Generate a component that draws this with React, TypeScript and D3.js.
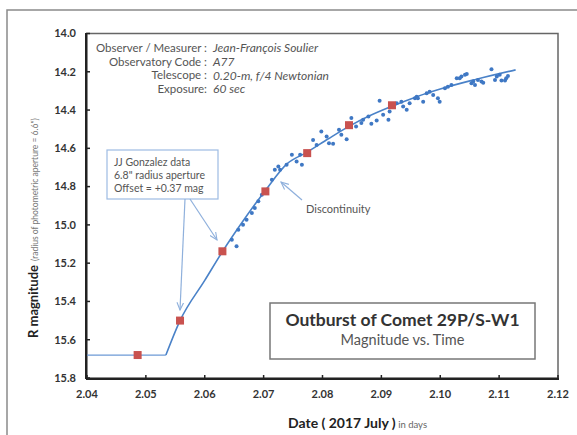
import React from "react";
import * as d3 from "d3";

const xTicks = [2.04, 2.05, 2.06, 2.07, 2.08, 2.09, 2.1, 2.11, 2.12];
const yTicks = [14.0, 14.2, 14.4, 14.6, 14.8, 15.0, 15.2, 15.4, 15.6, 15.8];

// JJ Gonzalez data (red squares)
const gonzalezX = [2.0486, 2.0558, 2.063, 2.0703, 2.0774, 2.0845, 2.0918];
const gonzalezY = [15.68, 15.5, 15.138, 14.825, 14.625, 14.479, 14.375];

// Soulier measurements (blue dots)
const obsX = [
  2.0646, 2.0654, 2.0657, 2.0665, 2.0671, 2.068, 2.0685, 2.0691, 2.0697, 2.0705,
  2.0714, 2.0719, 2.0725, 2.0728, 2.0739, 2.0748, 2.0756, 2.0762, 2.0765, 2.0784,
  2.079, 2.0798, 2.0807, 2.0811, 2.0818, 2.0828, 2.0832, 2.0841, 2.0849, 2.0857,
  2.0866, 2.0869, 2.0878, 2.0883, 2.0892, 2.0897, 2.0903, 2.0912, 2.0914, 2.0926,
  2.0934, 2.0937, 2.0943, 2.0948, 2.0957, 2.096, 2.0962, 2.0971, 2.0977, 2.0982,
  2.0988, 2.0996, 2.0999, 2.1008, 2.1013, 2.1019, 2.1028, 2.1033, 2.1036, 2.1042,
  2.1045, 2.1053, 2.1056, 2.1059, 2.1064, 2.107, 2.1073, 2.1087, 2.1093, 2.1096,
  2.1101, 2.1104, 2.111, 2.1112, 2.1115,
];
const obsY = [
  15.077, 15.112, 15.025, 14.999, 14.973, 14.938, 14.912, 14.877, 14.842, 14.816,
  14.764, 14.712, 14.695, 14.712, 14.686, 14.634, 14.669, 14.634, 14.686, 14.556,
  14.582, 14.512, 14.538, 14.573, 14.576, 14.503, 14.529, 14.552, 14.442, 14.486,
  14.468, 14.451, 14.434, 14.472, 14.455, 14.352, 14.425, 14.451, 14.408, 14.364,
  14.356, 14.382, 14.399, 14.364, 14.338, 14.33, 14.338, 14.356, 14.312, 14.304,
  14.321, 14.338, 14.356, 14.286, 14.278, 14.269, 14.234, 14.234, 14.225, 14.216,
  14.211, 14.26, 14.251, 14.269, 14.243, 14.251, 14.257, 14.187, 14.243, 14.225,
  14.216, 14.246, 14.246, 14.234, 14.222,
];

// Baseline (pre-outburst) and fitted trend line
const baseX = [2.04, 2.0534];
const baseY = [15.68, 15.68];
const fitX = [2.0534, 2.0558, 2.06, 2.063, 2.0665, 2.0703, 2.074, 2.0774, 2.081, 2.0845, 2.088, 2.0918, 2.096, 2.1, 2.106, 2.1128];
const fitY = [15.68, 15.5, 15.29, 15.14, 14.98, 14.82, 14.68, 14.62, 14.55, 14.485, 14.43, 14.38, 14.33, 14.29, 14.24, 14.19];

const infoLabels = ["Observer / Measurer :", "Observatory Code :", "Telescope :", "Exposure:"];
const infoValues = ["Jean-François Soulier", "A77", "0.20-m, f/4 Newtonian", "60 sec"];
const calloutLines = ["JJ Gonzalez data", "6.8\" radius aperture", "Offset = +0.37 mag"];

export default function App() {
  const W = 577, H = 435;
  const x = d3.scaleLinear().domain([2.04, 2.12]).range([87, 558]);
  const y = d3.scaleLinear().domain([14.0, 15.8]).range([33.5, 378]);
  const font = "Lato, 'Open Sans', sans-serif";

  const fitPath = d3
    .line<number>()
    .x((d, i) => x(fitX[i]))
    .y((d, i) => y(fitY[i]))
    .curve(d3.curveMonotoneX)(fitX);
  const basePath = d3
    .line<number>()
    .x((d, i) => x(baseX[i]))
    .y((d, i) => y(baseY[i]))(baseX);

  const blue = "#4a82c8";
  const arrowCol = "#8fb0dc";

  return (
    <svg width={W} height={H} style={{ position: "absolute", left: 0, top: 0, background: "#fff" }} fontFamily={font}>
      <defs>
        <marker id="arr" viewBox="0 0 10 10" refX="9" refY="5" markerWidth="7" markerHeight="7" orient="auto">
          <path d="M0,1 L9,5 L0,9" fill="none" stroke={arrowCol} strokeWidth="1.3" />
        </marker>
      </defs>
      {/* outer frame */}
      <rect x={7} y={10} width={W + 20} height={H + 20} fill="none" stroke="#8a8a8a" strokeWidth={1.5} />

      {/* plot frame */}
      <rect x={87} y={33.5} width={471} height={344.5} fill="none" stroke="#666" strokeWidth={1.5} />
      <line x1={86} x2={86} y1={33} y2={379} stroke="#222" strokeWidth={2} />
      <line x1={86} x2={559} y1={379} y2={379} stroke="#222" strokeWidth={2} />

      {/* ticks */}
      {yTicks.map((t) => (
        <g key={"y" + t}>
          <line x1={86} x2={90} y1={y(t)} y2={y(t)} stroke="#222" strokeWidth={1.5} />
          <text x={76} y={y(t)} dy="0.35em" textAnchor="end" fontSize={11} fontWeight="bold" fill="#333">
            {t.toFixed(1)}
          </text>
        </g>
      ))}
      {xTicks.map((t) => (
        <g key={"x" + t}>
          <line x1={x(t)} x2={x(t)} y1={379} y2={375} stroke="#222" strokeWidth={1.5} />
          <text x={x(t)} y={394} dy="0.35em" textAnchor="middle" fontSize={11} fontWeight="bold" fill="#333">
            {t.toFixed(2)}
          </text>
        </g>
      ))}

      {/* axis titles */}
      <text x={288} y={422} dy="0.35em" textAnchor="start" fill="#222">
        <tspan fontSize={14} fontWeight="bold">Date ( 2017 July )</tspan>
        <tspan fontSize={9.5} fill="#666"> in days</tspan>
      </text>
      <text transform="translate(32,338) rotate(-90)" dy="0.35em" textAnchor="start" fill="#222">
        <tspan fontSize={13} fontWeight="bold">R magnitude</tspan>
        <tspan fontSize={8.5} fill="#777" dx={4}>(radius of photometric aperture = 6.6")</tspan>
      </text>

      {/* lines */}
      <path d={basePath || ""} fill="none" stroke="#6d9ad6" strokeWidth={1.3} />
      <path d={fitPath || ""} fill="none" stroke={blue} strokeWidth={1.6} />

      {/* observations */}
      {obsX.map((v, i) => (
        <circle key={"o" + i} cx={x(v)} cy={y(obsY[i])} r={2} fill="#3f78c4" />
      ))}
      {/* Gonzalez squares */}
      {gonzalezX.map((v, i) => (
        <rect key={"g" + i} x={x(v) - 4} y={y(gonzalezY[i]) - 4} width={8} height={8} fill="#c9524f" />
      ))}

      {/* info text */}
      {infoLabels.map((l, i) => (
        <g key={"i" + i}>
          <text x={207} y={48 + i * 13.7} dy="0.35em" textAnchor="end" fontSize={11.5} fill="#555">{l}</text>
          <text x={213} y={48 + i * 13.7} dy="0.35em" fontSize={12} fontStyle="italic" fill="#555">{infoValues[i]}</text>
        </g>
      ))}

      {/* callout */}
      <rect x={107} y={150} width={111} height={49} fill="#fff" stroke="#9dbbe3" strokeWidth={1.2} />
      {calloutLines.map((l, i) => (
        <text key={"c" + i} x={114} y={162 + i * 13.3} dy="0.35em" fontSize={10.5} fill="#555">{l}</text>
      ))}
      <line x1={185} y1={199} x2={180} y2={310} stroke={arrowCol} strokeWidth={1.2} markerEnd="url(#arr)" />
      <line x1={190} y1={199} x2={217} y2={240} stroke={arrowCol} strokeWidth={1.2} markerEnd="url(#arr)" />

      {/* discontinuity */}
      <line x1={302} y1={200} x2={281} y2={182} stroke={arrowCol} strokeWidth={1.2} markerEnd="url(#arr)" />
      <text x={306} y={209.5} dy="0.35em" fontSize={11} fill="#555">Discontinuity</text>

      {/* title box */}
      <rect x={270} y={303} width={265} height={56} fill="#fff" stroke="#777" strokeWidth={1.5} />
      <text x={402.5} y={319.5} dy="0.35em" textAnchor="middle" fontSize={17.5} fontWeight="bold" fill="#333">
        Outburst of Comet 29P/S-W1
      </text>
      <text x={402.5} y={340} dy="0.35em" textAnchor="middle" fontSize={14.5} fill="#555">
        Magnitude vs. Time
      </text>
    </svg>
  );
}
